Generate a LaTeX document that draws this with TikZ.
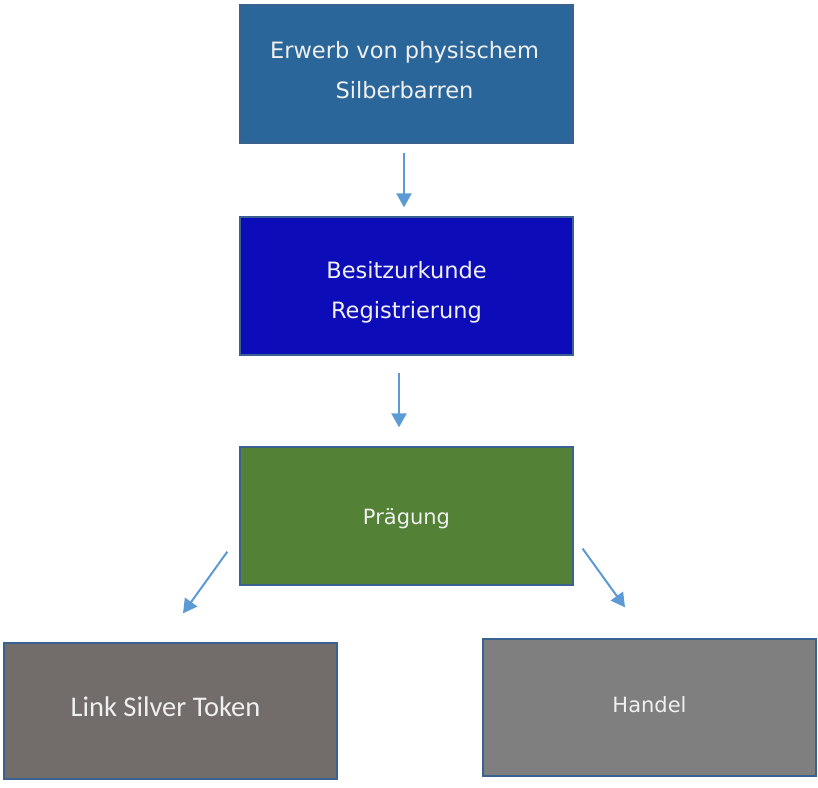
\documentclass[tikz,border=0pt]{standalone}
\usepackage{fontspec}
\newfontfamily\djv{DejaVu Sans}
\newfontfamily\carl{Carlito}
\usetikzlibrary{arrows.meta}
\definecolor{c1}{HTML}{2A6699}
\definecolor{c2}{HTML}{0C0CB8}
\definecolor{c3}{HTML}{538135}
\definecolor{c4}{HTML}{726D6B}
\definecolor{c5}{HTML}{7F7F7F}
\definecolor{bord}{HTML}{3A6290}
\definecolor{arrc}{HTML}{5B9BD5}
\definecolor{txt}{HTML}{F0F0F0}
\tikzset{
  box/.style={draw=bord, line width=1.3pt, minimum width=333pt, inner sep=0pt},
  lbl/.style={text=txt, align=center, inner sep=0pt},
  arr/.style={draw=arrc, line width=2pt, -{Triangle[length=14pt,width=15pt]}}
}
\begin{document}
\begin{tikzpicture}[x=1pt,y=-1pt]
\useasboundingbox (0,0) rectangle (818,787);
\node[box, fill=c1, minimum height=138pt] (b1) at (406.5,74) {};
\node[box, fill=c2, minimum height=138pt] (b2) at (406.5,286) {};
\node[box, fill=c3, minimum height=138pt] (b3) at (406.5,516) {};
\node[box, fill=c4, minimum height=136pt] (b4) at (170.5,711) {};
\node[box, fill=c5, minimum height=137pt] (b5) at (649.5,707.5) {};
\node[lbl, font={\djv\fontsize{22.5}{40}\selectfont}] (t1) at ([xshift=-2pt,yshift=4pt]b1.center) {Erwerb von physischem\\Silberbarren};
\node[lbl, font={\djv\fontsize{22.5}{40}\selectfont}] (t2) at ([yshift=-6pt]b2.center) {Besitzurkunde\\Registrierung};
\node[lbl, font={\djv\fontsize{21}{30}\selectfont}] (t3) at ([yshift=-3pt]b3.center) {Prägung};
\node[lbl, font={\carl\fontsize{28.5}{34}\selectfont}] (t4) at ([xshift=-5pt,yshift=4pt]b4.center) {Link Silver Token};
\node[lbl, font={\djv\fontsize{21}{30}\selectfont}] (t5) at ([yshift=3pt]b5.center) {Handel};
\draw[arr] ([xshift=-2.5pt,yshift=-9pt]b1.south) -- ([xshift=-2.5pt,yshift=9pt]b2.north);
\draw[arr] ([xshift=-7.5pt,yshift=-17pt]b2.south) -- ([xshift=-7.5pt,yshift=19pt]b3.north);
\draw[arr] ([xshift=-12pt,yshift=34pt]b3.south west) -- ([xshift=12.5pt,yshift=29pt]b4.north);
\draw[arr] ([xshift=9pt,yshift=37pt]b3.south east) -- ([xshift=-24.5pt,yshift=31pt]b5.north);
\end{tikzpicture}
\end{document}
